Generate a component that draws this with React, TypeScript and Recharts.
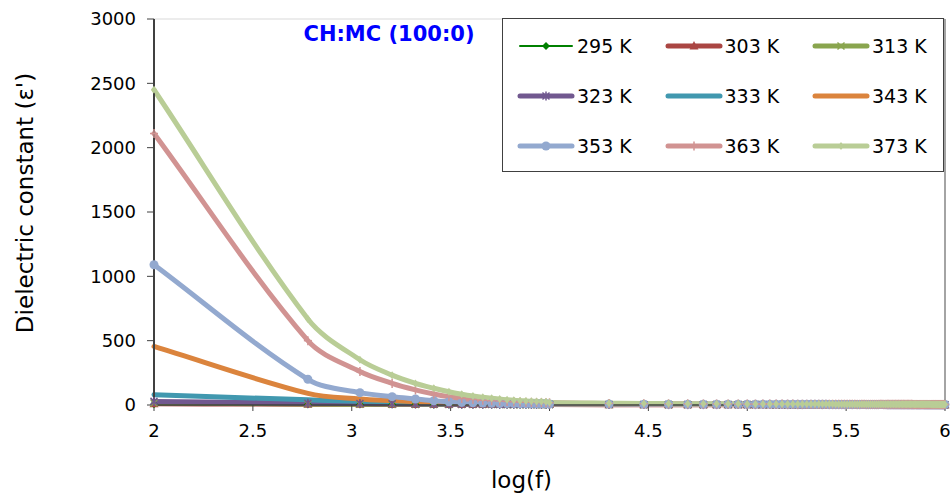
import { LineChart, Line, XAxis, YAxis, ReferenceLine } from 'recharts';

const FONT = '"DejaVu Sans", "Liberation Sans", sans-serif';

// frequencies (Hz): 500 Hz steps below 10 kHz, then 10 kHz steps up to 1 MHz
const freqLow = [100, 600, 1100, 1600, 2100, 2600, 3100, 3600, 4100, 4600, 5100, 5600, 6100, 6600, 7100, 7600, 8100, 8600, 9100, 9600];
const freqHighKHz = [
  10, 20, 30, 40, 50, 60, 70, 80, 90, 100,
  110, 120, 130, 140, 150, 160, 170, 180, 190, 200,
  210, 220, 230, 240, 250, 260, 270, 280, 290, 300,
  310, 320, 330, 340, 350, 360, 370, 380, 390, 400,
  410, 420, 430, 440, 450, 460, 470, 480, 490, 500,
  510, 520, 530, 540, 550, 560, 570, 580, 590, 600,
  610, 620, 630, 640, 650, 660, 670, 680, 690, 700,
  710, 720, 730, 740, 750, 760, 770, 780, 790, 800,
  810, 820, 830, 840, 850, 860, 870, 880, 890, 900,
  910, 920, 930, 940, 950, 960, 970, 980, 990, 1000,
];

const xTicks = [2, 2.5, 3, 3.5, 4, 4.5, 5, 5.5, 6];
const yTicks = [0, 500, 1000, 1500, 2000, 2500, 3000];

// low frequency part (one value per freqLow entry)
const low295 = [6, 4, 3, 3, 3, 2, 2, 2, 2, 2, 2, 2, 2, 2, 2, 2, 2, 2, 2, 2];
const low303 = [10, 6, 5, 4, 4, 4, 3, 3, 3, 3, 3, 3, 3, 3, 3, 3, 3, 3, 3, 3];
const low313 = [16, 8, 6, 5, 5, 4, 4, 4, 4, 4, 4, 4, 3, 3, 3, 3, 3, 3, 3, 3];
const low323 = [28, 14, 11, 9, 8, 7, 7, 6, 6, 6, 6, 5, 5, 5, 5, 5, 5, 5, 5, 5];
const low333 = [80, 40, 30, 24, 20, 17, 15, 13, 12, 11, 10, 10, 9, 9, 8, 8, 8, 8, 7, 7];
const low343 = [455, 90, 47, 34, 26, 20, 16, 14, 12, 11, 10, 9, 9, 8, 8, 8, 7, 7, 7, 7];
const low353 = [1090, 200, 96, 65, 47, 33, 25, 20, 17, 15, 13, 12, 11, 11, 10, 10, 10, 9, 9, 9];
const low363 = [2110, 500, 260, 168, 117, 85, 64, 51, 43, 37, 33, 30, 27, 25, 23, 22, 21, 20, 19, 18];
const low373 = [2450, 668, 352, 232, 168, 130, 103, 84, 70, 60, 52, 46, 41, 37, 34, 32, 30, 28, 27, 26];

// high frequency part (one value per freqHighKHz entry)
const high295 = [
  2, 2, 2, 2, 2, 2, 2, 2, 2, 2,
  2, 2, 2, 2, 2, 2, 2, 2, 2, 2,
  2, 2, 2, 2, 2, 2, 2, 2, 2, 2,
  2, 2, 2, 2, 2, 2, 2, 2, 2, 2,
  1, 1, 1, 1, 1, 1, 1, 1, 1, 1,
  1, 1, 1, 1, 1, 1, 1, 1, 1, 1,
  1, 1, 1, 1, 1, 1, 1, 1, 1, 1,
  1, 1, 1, 1, 1, 1, 1, 1, 1, 1,
  1, 1, 1, 1, 1, 1, 1, 1, 1, 1,
  1, 1, 1, 1, 1, 1, 1, 1, 1, 1,
];
const high303 = [
  3, 2, 2, 2, 2, 2, 2, 2, 2, 2,
  2, 2, 2, 2, 2, 2, 2, 2, 2, 2,
  2, 2, 2, 2, 2, 2, 2, 2, 2, 2,
  2, 2, 2, 2, 2, 2, 2, 2, 2, 2,
  2, 2, 2, 2, 2, 2, 2, 2, 2, 2,
  2, 2, 2, 2, 2, 2, 2, 2, 2, 2,
  2, 2, 2, 2, 2, 2, 2, 2, 2, 2,
  1, 1, 1, 1, 1, 1, 1, 1, 1, 1,
  1, 1, 1, 1, 1, 1, 1, 1, 1, 1,
  1, 1, 1, 1, 1, 1, 1, 1, 1, 1,
];
const high313 = [
  3, 3, 3, 3, 3, 3, 3, 3, 3, 3,
  3, 3, 3, 3, 3, 3, 3, 3, 3, 3,
  3, 3, 3, 3, 3, 3, 3, 3, 3, 3,
  2, 2, 2, 2, 2, 2, 2, 2, 2, 2,
  2, 2, 2, 2, 2, 2, 2, 2, 2, 2,
  2, 2, 2, 2, 2, 2, 2, 2, 2, 2,
  2, 2, 2, 2, 2, 2, 2, 2, 2, 2,
  2, 2, 2, 2, 2, 2, 2, 2, 2, 2,
  2, 2, 2, 2, 2, 2, 2, 2, 2, 2,
  2, 2, 2, 2, 2, 2, 2, 2, 2, 2,
];
const high323 = [
  4, 4, 3, 3, 3, 3, 3, 3, 3, 3,
  3, 3, 3, 3, 3, 3, 3, 3, 3, 3,
  3, 3, 3, 3, 3, 3, 3, 3, 3, 3,
  3, 3, 3, 3, 3, 3, 3, 3, 3, 3,
  3, 3, 3, 3, 3, 3, 3, 3, 3, 3,
  2, 2, 2, 2, 2, 2, 2, 2, 2, 2,
  2, 2, 2, 2, 2, 2, 2, 2, 2, 2,
  2, 2, 2, 2, 2, 2, 2, 2, 2, 2,
  2, 2, 2, 2, 2, 2, 2, 2, 2, 2,
  2, 2, 2, 2, 2, 2, 2, 2, 2, 2,
];
const high333 = [
  6, 5, 4, 4, 4, 4, 4, 4, 4, 4,
  4, 4, 4, 4, 4, 4, 4, 4, 4, 4,
  4, 4, 4, 4, 4, 4, 4, 4, 4, 4,
  3, 3, 3, 3, 3, 3, 3, 3, 3, 3,
  3, 3, 3, 3, 3, 3, 3, 3, 3, 3,
  3, 3, 3, 3, 3, 3, 3, 3, 3, 3,
  3, 3, 3, 3, 3, 3, 3, 3, 3, 3,
  3, 3, 3, 3, 3, 3, 3, 3, 3, 3,
  3, 3, 3, 3, 3, 3, 3, 3, 3, 3,
  3, 3, 3, 3, 3, 3, 3, 3, 3, 3,
];
const high343 = [
  6, 5, 5, 4, 4, 4, 4, 4, 4, 4,
  4, 4, 4, 4, 4, 4, 4, 4, 4, 4,
  4, 4, 4, 4, 4, 4, 4, 4, 4, 4,
  4, 4, 4, 4, 4, 4, 4, 4, 4, 4,
  3, 3, 3, 3, 3, 3, 3, 3, 3, 3,
  3, 3, 3, 3, 3, 3, 3, 3, 3, 3,
  3, 3, 3, 3, 3, 3, 3, 3, 3, 3,
  3, 3, 3, 3, 3, 3, 3, 3, 3, 3,
  3, 3, 3, 3, 3, 3, 3, 3, 3, 3,
  3, 3, 3, 3, 3, 3, 3, 3, 3, 3,
];
const high353 = [
  8, 7, 6, 6, 5, 5, 5, 5, 5, 5,
  5, 5, 5, 5, 5, 5, 5, 5, 5, 5,
  5, 5, 5, 5, 5, 4, 4, 4, 4, 4,
  4, 4, 4, 4, 4, 4, 4, 4, 4, 4,
  4, 4, 4, 4, 4, 4, 4, 4, 4, 4,
  4, 4, 4, 4, 4, 4, 4, 4, 4, 4,
  4, 4, 4, 4, 4, 4, 4, 4, 4, 4,
  4, 4, 4, 4, 4, 4, 4, 4, 4, 4,
  3, 3, 3, 3, 3, 3, 3, 3, 3, 3,
  3, 3, 3, 3, 3, 3, 3, 3, 3, 3,
];
const high363 = [
  17, 12, 10, 9, 9, 8, 8, 8, 7, 7,
  7, 7, 7, 7, 7, 7, 7, 6, 6, 6,
  6, 6, 6, 6, 6, 6, 6, 6, 6, 6,
  6, 6, 6, 6, 6, 5, 5, 5, 5, 5,
  5, 5, 5, 5, 5, 5, 5, 5, 5, 5,
  5, 5, 5, 5, 5, 5, 5, 5, 5, 5,
  5, 5, 5, 5, 5, 5, 5, 5, 4, 4,
  4, 4, 4, 4, 4, 4, 4, 4, 4, 4,
  4, 4, 4, 4, 4, 4, 4, 4, 4, 4,
  4, 4, 4, 4, 4, 4, 4, 4, 4, 4,
];
const high373 = [
  20, 14, 12, 11, 10, 10, 9, 9, 9, 8,
  8, 8, 8, 8, 8, 7, 7, 7, 7, 7,
  7, 7, 7, 7, 7, 7, 7, 6, 6, 6,
  6, 6, 6, 6, 6, 6, 6, 6, 6, 6,
  6, 6, 6, 6, 6, 6, 6, 6, 5, 5,
  5, 5, 5, 5, 5, 5, 5, 5, 5, 5,
  5, 5, 5, 5, 5, 5, 5, 5, 5, 5,
  5, 5, 5, 5, 5, 5, 5, 5, 5, 5,
  5, 5, 5, 5, 4, 4, 4, 4, 4, 4,
  4, 4, 4, 4, 4, 4, 4, 4, 4, 4,
];

const series = [
  { key: 'k295', name: '295 K', color: '#008000', width: 2, marker: 'diamond', values: [...low295, ...high295] },
  { key: 'k303', name: '303 K', color: '#AA4643', width: 5, marker: 'triangle', values: [...low303, ...high303] },
  { key: 'k313', name: '313 K', color: '#89A54E', width: 5, marker: 'cross', values: [...low313, ...high313] },
  { key: 'k323', name: '323 K', color: '#71588F', width: 5, marker: 'star', values: [...low323, ...high323] },
  { key: 'k333', name: '333 K', color: '#4198AF', width: 5, marker: 'none', values: [...low333, ...high333] },
  { key: 'k343', name: '343 K', color: '#DB843D', width: 5, marker: 'none', values: [...low343, ...high343] },
  { key: 'k353', name: '353 K', color: '#93A9CF', width: 5, marker: 'circle', values: [...low353, ...high353] },
  { key: 'k363', name: '363 K', color: '#D19392', width: 5, marker: 'plus', values: [...low363, ...high363] },
  { key: 'k373', name: '373 K', color: '#B9CD96', width: 5, marker: 'smalldiamond', values: [...low373, ...high373] },
];

const freqs = [...freqLow, ...freqHighKHz.map((k) => k * 1000)];
const rows = freqs.map((f, i) => {
  const row: Record<string, number> = { logf: Math.log10(f) };
  series.forEach((s) => {
    row[s.key] = s.values[i];
  });
  return row;
});

// Excel-like smoothed line: Bezier through the points, tangent from neighbours,
// control arms scaled by segment length so uneven spacing doesn't overshoot
const excelSmooth = (context: any) => {
  let pts: number[][] = [];
  return {
    areaStart() {},
    areaEnd() {},
    lineStart() {
      pts = [];
    },
    point(x: number, y: number) {
      pts.push([+x, +y]);
    },
    lineEnd() {
      const n = pts.length;
      if (n === 0) return;
      context.moveTo(pts[0][0], pts[0][1]);
      if (n === 1) return;
      const dist = (a: number[], b: number[]) => Math.hypot(b[0] - a[0], b[1] - a[1]);
      const tangent = (i: number) => {
        const prev = pts[Math.max(i - 1, 0)];
        const next = pts[Math.min(i + 1, n - 1)];
        const dPrev = i > 0 ? dist(pts[i - 1], pts[i]) : 0;
        const dNext = i < n - 1 ? dist(pts[i], pts[i + 1]) : 0;
        const total = dPrev + dNext || 1;
        return { tx: (next[0] - prev[0]) / total, ty: (next[1] - prev[1]) / total };
      };
      for (let i = 0; i < n - 1; i++) {
        const p1 = pts[i];
        const p2 = pts[i + 1];
        const d = dist(p1, p2) / 3;
        const t1 = tangent(i);
        const t2 = tangent(i + 1);
        context.bezierCurveTo(
          p1[0] + t1.tx * d,
          p1[1] + t1.ty * d,
          p2[0] - t2.tx * d,
          p2[1] - t2.ty * d,
          p2[0],
          p2[1]
        );
      }
    },
  };
};

function Marker({ type, cx, cy, color }: { type: string; cx: number; cy: number; color: string }) {
  switch (type) {
    case 'diamond':
      return <polygon points={`${cx},${cy - 4} ${cx + 4},${cy} ${cx},${cy + 4} ${cx - 4},${cy}`} fill={color} />;
    case 'smalldiamond':
      return <polygon points={`${cx},${cy - 4} ${cx + 3},${cy} ${cx},${cy + 4} ${cx - 3},${cy}`} fill={color} />;
    case 'triangle':
      return <polygon points={`${cx},${cy - 5} ${cx + 4.5},${cy + 3.5} ${cx - 4.5},${cy + 3.5}`} fill={color} />;
    case 'circle':
      return <circle cx={cx} cy={cy} r={4.5} fill={color} />;
    case 'cross':
      return (
        <g stroke={color} strokeWidth={1.5}>
          <line x1={cx - 3.5} y1={cy - 3.5} x2={cx + 3.5} y2={cy + 3.5} />
          <line x1={cx - 3.5} y1={cy + 3.5} x2={cx + 3.5} y2={cy - 3.5} />
        </g>
      );
    case 'star':
      return (
        <g stroke={color} strokeWidth={1.5}>
          <line x1={cx - 3.5} y1={cy - 3.5} x2={cx + 3.5} y2={cy + 3.5} />
          <line x1={cx - 3.5} y1={cy + 3.5} x2={cx + 3.5} y2={cy - 3.5} />
          <line x1={cx} y1={cy - 4.5} x2={cx} y2={cy + 4.5} />
        </g>
      );
    case 'plus':
      return (
        <g stroke={color} strokeWidth={1.5}>
          <line x1={cx - 4} y1={cy} x2={cx + 4} y2={cy} />
          <line x1={cx} y1={cy - 4.5} x2={cx} y2={cy + 4.5} />
        </g>
      );
    default:
      return null;
  }
}

const makeDot = (key: string, type: string, color: string) => (props: any) => {
  const { cx, cy, index } = props;
  if (cx == null || cy == null) return <g key={`${key}-${index}`} />;
  return (
    <g key={`${key}-${index}`}>
      <Marker type={type} cx={cx} cy={cy} color={color} />
    </g>
  );
};

export default function App() {
  return (
    <div style={{ position: 'absolute', left: 0, top: 0, width: 950, height: 500, background: '#fff', fontFamily: FONT }}>
      <LineChart width={950} height={500} data={rows} margin={{ top: 19, right: 5, bottom: 35, left: 0 }}>
        <XAxis
          dataKey="logf"
          type="number"
          domain={[2, 6]}
          ticks={xTicks}
          height={60}
          tickSize={6}
          tickMargin={13}
          tick={{ fontSize: 18, fill: '#000', fontFamily: FONT }}
          axisLine={{ stroke: '#404040', strokeWidth: 1.5 }}
          tickLine={{ stroke: '#404040' }}
          label={{
            value: 'log(f)',
            content: ({ viewBox }: any) => (
              <text
                x={viewBox.x + viewBox.width / 2 - 28}
                y={viewBox.y + 83}
                textAnchor="middle"
                fontSize={23}
                fontFamily={FONT}
                fill="#000"
              >
                log(f)
              </text>
            ),
          }}
        />
        <YAxis
          type="number"
          domain={[0, 3000]}
          ticks={yTicks}
          width={154}
          tickSize={7}
          tickMargin={11}
          tick={{ fontSize: 18, fill: '#000', fontFamily: FONT }}
          axisLine={{ stroke: '#404040', strokeWidth: 2 }}
          tickLine={{ stroke: '#404040' }}
          label={{
            value: "Dielectric constant (ε')",
            content: ({ viewBox }: any) => {
              const cx = 25;
              const cy = viewBox.y + viewBox.height / 2 - 9;
              return (
                <text
                  x={cx}
                  y={cy}
                  transform={`rotate(-90 ${cx} ${cy})`}
                  textAnchor="middle"
                  dominantBaseline="central"
                  fontSize={23}
                  fontFamily={FONT}
                  fill="#000"
                >
                  Dielectric constant (ε')
                </text>
              );
            },
          }}
        />
        <ReferenceLine y={3000} stroke="#D9D9D9" strokeWidth={1} />
        <ReferenceLine x={6} stroke="#868686" strokeWidth={1.5} />
        {series.map((s) => (
          <Line
            key={s.key}
            type={excelSmooth as any}
            dataKey={s.key}
            name={s.name}
            stroke={s.color}
            strokeWidth={s.width}
            strokeLinecap="round"
            strokeLinejoin="round"
            dot={s.marker === 'none' ? false : makeDot(s.key, s.marker, s.color)}
            activeDot={false}
            isAnimationActive={false}
          />
        ))}
      </LineChart>

      <div
        style={{
          position: 'absolute',
          left: 289,
          top: 22,
          width: 200,
          textAlign: 'center',
          color: '#0000FF',
          fontWeight: 700,
          fontSize: 21,
          fontFamily: FONT,
        }}
      >
        CH:MC (100:0)
      </div>

      <div
        style={{
          position: 'absolute',
          left: 502,
          top: 18,
          width: 440,
          height: 152,
          border: '1px solid #404040',
          background: '#fff',
        }}
      >
        {series.map((s, i) => {
          const col = i % 3;
          const row = Math.floor(i / 3);
          return (
            <div
              key={s.key}
              style={{
                position: 'absolute',
                left: 14 + col * 147.5,
                top: 16 + row * 50,
                height: 22,
                display: 'flex',
                alignItems: 'center',
              }}
            >
              <svg width={58} height={22} style={{ display: 'block' }}>
                <line
                  x1={3}
                  y1={11}
                  x2={55}
                  y2={11}
                  stroke={s.color}
                  strokeWidth={s.width}
                  strokeLinecap="round"
                />
                <Marker type={s.marker} cx={29} cy={11} color={s.color} />
              </svg>
              <span style={{ fontSize: 19, color: '#000', marginLeft: 2, lineHeight: '22px' }}>{s.name}</span>
            </div>
          );
        })}
      </div>
    </div>
  );
}
